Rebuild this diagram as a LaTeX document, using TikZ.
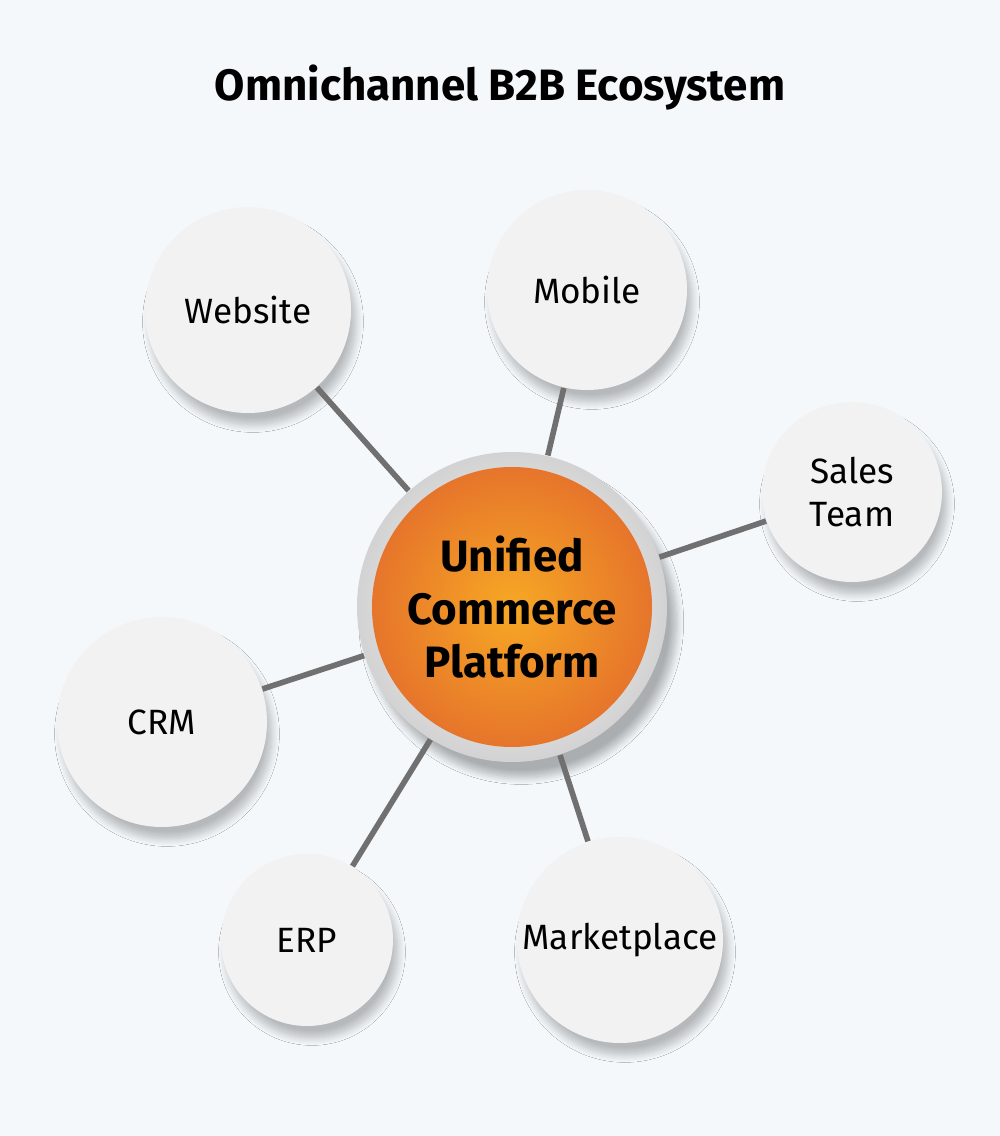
\documentclass[tikz,border=0pt]{standalone}
\usepackage{fontspec}
\setmainfont{Fira Sans}
\usetikzlibrary{shadows.blur}
\definecolor{bgcol}{HTML}{F4F8FB}
\definecolor{satcol}{HTML}{F2F2F2}
\definecolor{linecol}{HTML}{707070}
\definecolor{orin}{HTML}{F7A824}
\definecolor{orout}{HTML}{E6752B}
\tikzset{
 sat/.style={circle, inner sep=0pt, fill=satcol, blur shadow={shadow blur steps=8, shadow xshift=0.5mm, shadow yshift=-1.2mm, shadow opacity=25}, font=\fontsize{10}{12}\selectfont, align=center, text=black},
 link/.style={draw=linecol, line width=1.6pt}
}
\begin{document}
\begin{tikzpicture}
 \fill[bgcol] (0,0) rectangle (10,11.36);
 \useasboundingbox (0,0) rectangle (10,11.36);

 \node (title) at (5,10.48) {\fontsize{12.5}{14}\selectfont\bfseries Omnichannel B2B Ecosystem};

 \node (ring) [circle, inner sep=0pt, minimum size=3.1cm, inner color=white, outer color=gray!35, blur shadow={shadow blur steps=10, shadow yshift=-1.5mm, shadow opacity=30}] at (5.12,5.29) {};
 \node (hub) [circle, inner sep=0pt, minimum size=2.8cm, inner color=orin, outer color=orout, align=center, font=\fontsize{12.5}{15}\selectfont\bfseries] at (5.12,5.29) {Unified\\Commerce\\Platform};

 \node (web) [sat, minimum size=2.06cm] at (2.48,8.26) {Website};
 \node (mob) [sat, minimum size=2.0cm] at (5.87,8.46) {Mobile};
 \node (sales) [sat, minimum size=1.8cm] at (8.52,6.44) {Sales\\Team};
 \node (crm) [sat, minimum size=2.1cm] at (1.62,4.14) {CRM};
 \node (erp) [sat, minimum size=1.72cm] at (3.07,1.96) {ERP};
 \node (mkt) [sat, minimum size=2.06cm] at (6.20,1.96) {Marketplace};

 \draw [link] (ring) -- (web);
 \draw [link] (ring) -- (mob);
 \draw [link] (ring) -- (sales);
 \draw [link] (ring) -- (crm);
 \draw [link] (ring) -- (erp);
 \draw [link] (ring) -- (mkt);
\end{tikzpicture}
\end{document}
